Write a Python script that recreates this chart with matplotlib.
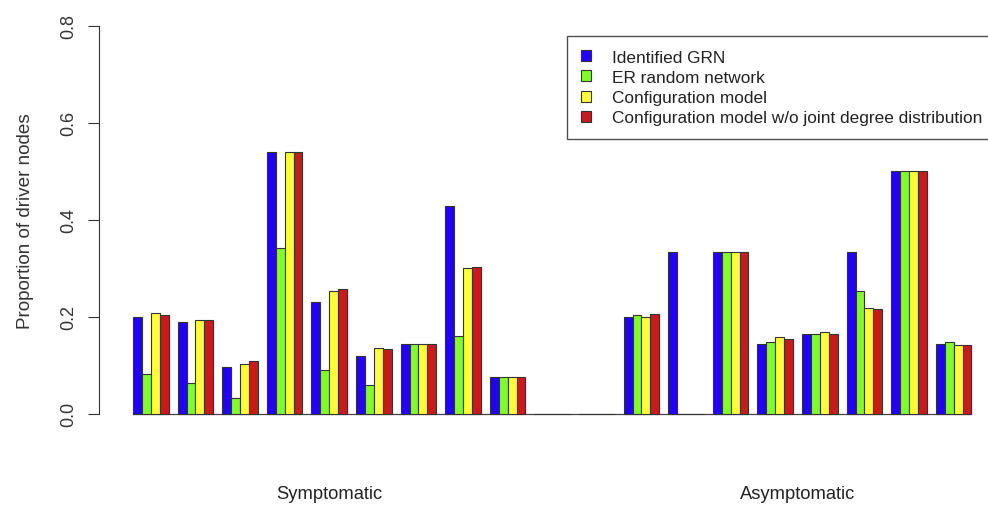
import matplotlib.pyplot as plt
import matplotlib.patches as mpatches
import matplotlib.transforms as mtransforms
import numpy as np

plt.rcParams["font.family"] = ["Liberation Sans", "DejaVu Sans"]

# one value per group: 9 symptomatic groups, 2 empty, 8 asymptomatic groups
identified_grn = [0.200, 0.189, 0.096, 0.540, 0.231, 0.119, 0.143, 0.429, 0.076,
                  0.0, 0.0,
                  0.200, 0.333, 0.333, 0.144, 0.165, 0.333, 0.500, 0.143]
er_random = [0.081, 0.062, 0.031, 0.342, 0.089, 0.059, 0.143, 0.160, 0.076,
             0.0, 0.0,
             0.203, 0.0, 0.333, 0.148, 0.165, 0.253, 0.500, 0.148]
config_model = [0.207, 0.193, 0.103, 0.540, 0.253, 0.136, 0.143, 0.300, 0.076,
                0.0, 0.0,
                0.199, 0.0, 0.333, 0.158, 0.168, 0.218, 0.500, 0.142]
config_no_joint = [0.203, 0.193, 0.109, 0.540, 0.258, 0.134, 0.143, 0.303, 0.076,
                   0.0, 0.0,
                   0.205, 0.0, 0.333, 0.154, 0.165, 0.215, 0.500, 0.142]

series = [identified_grn, er_random, config_model, config_no_joint]
series_labels = ["Identified GRN", "ER random network", "Configuration model",
                 "Configuration model w/o joint degree distribution"]
colors = ["#2200ff", "#80ff22", "#ffff33", "#cc1a1a"]
group_names = ["Symptomatic", "Asymptomatic"]
group_ranges = [(0, 8), (11, 18)]
yticks = [0.0, 0.2, 0.4, 0.6, 0.8]

W, H = 988, 506
fig = plt.figure(figsize=(W / 100, H / 100), dpi=100)
ax = fig.add_axes([124.1 / W, (H - 414.5) / H, 856.3 / W, 387.5 / H])

n_groups = len(identified_grn)
starts = 1 + 5 * np.arange(n_groups)
# baseline under all groups
ax.plot([starts[0], starts[-1] + 4], [0, 0], color="#444444", linewidth=0.9,
        clip_on=False, zorder=1)
for j, (vals, col) in enumerate(zip(series, colors)):
    ax.bar(starts + j, vals, width=1, align="edge", color=col,
           edgecolor="#333333", linewidth=0.8, clip_on=False, zorder=2)

ax.set_xlim(0, 96)
ax.set_ylim(0, 0.8)
ax.set_xticks([])
for s in ["top", "right", "bottom"]:
    ax.spines[s].set_visible(False)
ax.spines["left"].set_position(("outward", 18))
ax.spines["left"].set_bounds(0, 0.8)
ax.spines["left"].set_color("#333333")
ax.set_yticks(yticks)
ax.set_yticklabels([f"{t:.1f}" for t in yticks])
ax.tick_params(axis="y", length=8, width=0.8, color="#333333", labelsize=13,
               labelcolor="#333333", pad=7.5)
plt.setp(ax.get_yticklabels(), rotation=90, va="center", ha="right")
fig.text(25.5 / W, 1 - 221 / H, "Proportion of driver nodes", rotation=90,
         ha="center", va="center", fontsize=13.6, color="#333333")

trans = mtransforms.blended_transform_factory(ax.transData, fig.transFigure)
for name, (a, b) in zip(group_names, group_ranges):
    xc = (starts[a] + starts[b] + 4) / 2
    ax.text(xc, 1 - 495 / H, name, transform=trans, ha="center", va="center",
            fontsize=13.2, color="#222222")

handles = [mpatches.Patch(facecolor=c, edgecolor="#333333", linewidth=0.8)
           for c in colors]
leg = fig.legend(handles, series_labels, loc="upper left",
                 bbox_to_anchor=(567 / W, 1 - 37 / H), fontsize=12.4,
                 frameon=True, fancybox=False, edgecolor="#222222",
                 handlelength=0.6, handleheight=0.6, handletextpad=1.2,
                 labelspacing=0.3, borderpad=0.8, borderaxespad=0)
leg.get_frame().set_linewidth(1.0)
for t in leg.get_texts():
    t.set_color("#222222")

fig.savefig("out.png", dpi=100)
